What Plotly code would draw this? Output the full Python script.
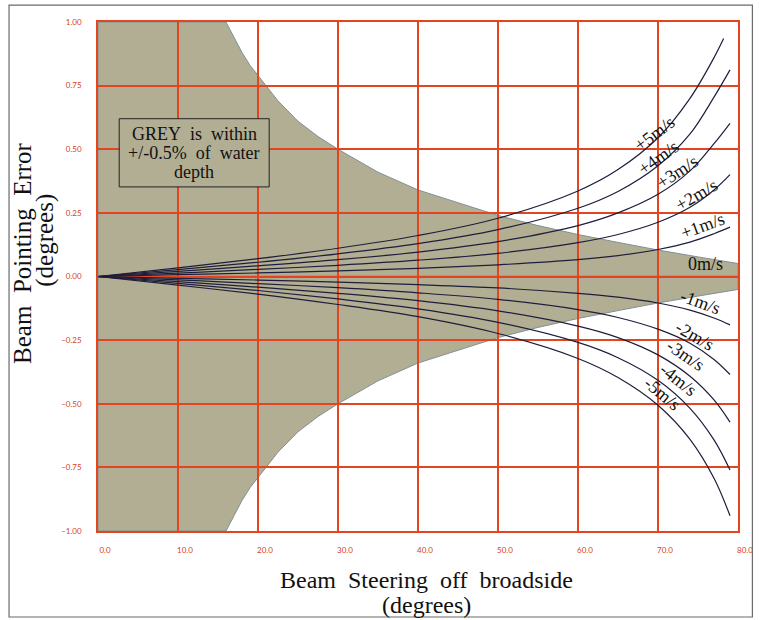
import plotly.graph_objects as go

# ---- data ----
steer_x = [0, 10, 20, 30, 40, 50, 60, 65, 70, 74, 77]
end_x = {"+5m/s": 78.2, "+4m/s": 79, "+3m/s": 79, "+2m/s": 79, "+1m/s": 79,
         "-1m/s": 79, "-2m/s": 79, "-3m/s": 79, "-4m/s": 79, "-5m/s": 79}

p5 = [0, .034, .070, .111, .161, .229, .336, .420, .545, .700, .860, .935]
p4 = [0, .027, .056, .089, .129, .184, .268, .334, .435, .560, .705, .812]
p3 = [0, .020, .042, .066, .096, .137, .200, .250, .323, .415, .522, .602]
p2 = [0, .013, .028, .044, .064, .091, .133, .165, .213, .272, .340, .400]
p1 = [0, .007, .014, .022, .032, .046, .066, .082, .106, .135, .168, .194]
n1 = [0, -.007, -.014, -.022, -.032, -.045, -.066, -.081, -.104, -.132, -.163, -.190]
n2 = [0, -.013, -.028, -.044, -.064, -.090, -.130, -.161, -.207, -.262, -.326, -.385]
n3 = [0, -.020, -.042, -.066, -.095, -.135, -.195, -.240, -.308, -.392, -.485, -.572]
n4 = [0, -.027, -.055, -.088, -.127, -.180, -.259, -.319, -.408, -.518, -.642, -.760]
n5 = [0, -.034, -.069, -.110, -.158, -.224, -.322, -.397, -.506, -.640, -.793, -.940]

series = {"+5m/s": p5, "+4m/s": p4, "+3m/s": p3, "+2m/s": p2, "+1m/s": p1,
          "-1m/s": n1, "-2m/s": n2, "-3m/s": n3, "-4m/s": n4, "-5m/s": n5}

# grey tolerance region boundary (+/-0.5% of depth)
bound_x = [16, 16.5, 17, 18, 19, 20, 21, 22.5, 25, 27.5, 30, 35, 40, 45, 50,
           55, 60, 65, 70, 75, 80]
bound_upper = [1.00, 0.97, 0.94, 0.88, 0.83, 0.79, 0.75, 0.69, 0.61, 0.55, 0.50,
               0.41, 0.34, 0.29, 0.24, 0.20, 0.165, 0.134, 0.104, 0.077, 0.051]
bound_lower = [-1.00, -0.97, -0.94, -0.88, -0.83, -0.79, -0.75, -0.69, -0.61, -0.55,
               -0.50, -0.41, -0.34, -0.29, -0.24, -0.20, -0.165, -0.134, -0.104,
               -0.077, -0.051]

# curve label positions (data coords) and angles
label_names = ["+5m/s", "+4m/s", "+3m/s", "+2m/s", "+1m/s", "0m/s",
               "-1m/s", "-2m/s", "-3m/s", "-4m/s", "-5m/s"]
label_x = [69.5, 70.0, 72.4, 74.8, 75.5, 75.9, 75.3, 74.6, 73.4, 72.6, 70.6]
label_y = [0.56, 0.465, 0.41, 0.32, 0.20, 0.05, -0.10, -0.235, -0.31, -0.405, -0.46]
label_ang = [-37, -36, -33, -30, -20, 0, 20, 30, 34, 38, 40]

x_ticks = [0, 10, 20, 30, 40, 50, 60, 70, 80]
y_ticks = [-1.0, -0.75, -0.5, -0.25, 0.0, 0.25, 0.5, 0.75, 1.0]

GRID = "#E2451F"
GREY = "#B2AE93"
SERIF = "Liberation Serif"

fig = go.Figure()

# zero-velocity line (coincides with the zero grid line)
fig.add_trace(go.Scatter(x=[0, 80], y=[0, 0], mode="lines",
                         line=dict(color=GRID, width=1.5), hoverinfo="skip",
                         showlegend=False))

for name, vals in series.items():
    xs = steer_x + [end_x[name]]
    fig.add_trace(go.Scatter(x=xs, y=vals, mode="lines", name=name,
                             line=dict(color="#1E1E3C", width=1.2, shape="spline",
                                       smoothing=1.0),
                             showlegend=False))

# grey region as path under the gridlines
pts = [(0, 1.0)] + list(zip(bound_x, bound_upper)) + \
      list(zip(bound_x[::-1], bound_lower[::-1])) + [(0, -1.0)]
path = "M " + " L ".join(f"{x},{y}" for x, y in pts) + " Z"
shapes = [dict(type="path", path=path, xref="x", yref="y", layer="below",
               fillcolor=GREY, line=dict(color="#7F9196", width=1))]

# legend-like box
shapes.append(dict(type="rect", xref="x", yref="y", x0=2.65, x1=21.4,
                   y0=0.352, y1=0.62, line=dict(color="#222", width=1),
                   fillcolor=GREY, layer="above"))
# outer frame
shapes.append(dict(type="rect", xref="paper", yref="paper",
                   x0=-0.139, x1=1.0225, y0=-0.169, y1=1.033,
                   line=dict(color="#6A6A6A", width=1.2), layer="above"))

annotations = []
for t, yy in zip(["GREY\u00a0\u00a0is\u00a0\u00a0within",
                  "+/-0.5%\u00a0\u00a0of\u00a0\u00a0water", "depth"],
                 [0.560, 0.484, 0.410]):
    annotations.append(dict(x=12.0, y=yy, xref="x", yref="y", text=t,
                            showarrow=False, font=dict(family=SERIF, size=18,
                                                       color="#111")))
for n, lx, ly, a in zip(label_names, label_x, label_y, label_ang):
    annotations.append(dict(x=lx, y=ly, xref="x", yref="y", text=n,
                            showarrow=False, textangle=a,
                            font=dict(family=SERIF, size=18, color="#111")))

annotations.append(dict(x=0.513, y=-0.096, xref="paper", yref="paper",
                        text="Beam\u00a0\u00a0Steering\u00a0\u00a0off\u00a0\u00a0broadside",
                        showarrow=False, yanchor="middle",
                        font=dict(family=SERIF, size=24, color="#111")))
annotations.append(dict(x=0.513, y=-0.146, xref="paper", yref="paper",
                        text="(degrees)", showarrow=False, yanchor="middle",
                        font=dict(family=SERIF, size=24, color="#111")))
annotations.append(dict(x=-0.119, y=0.546, xref="paper", yref="paper",
                        text="Beam\u00a0\u00a0Pointing\u00a0\u00a0Error",
                        showarrow=False, textangle=-90, xanchor="center",
                        yanchor="middle",
                        font=dict(family=SERIF, size=25, color="#111")))
annotations.append(dict(x=-0.083, y=0.572, xref="paper", yref="paper",
                        text="(degrees)",
                        showarrow=False, textangle=-90, xanchor="center",
                        yanchor="middle",
                        font=dict(family=SERIF, size=25, color="#111")))

fig.update_layout(
    width=761, height=620,
    margin=dict(l=98, r=23, t=22, b=89, autoexpand=False),
    paper_bgcolor="white", plot_bgcolor="white",
    shapes=shapes, annotations=annotations,
    xaxis=dict(range=[0, 80], tickvals=x_ticks, tickformat=".1f",
               showgrid=True, gridcolor=GRID, gridwidth=1.5,
               showline=True, linecolor=GRID, linewidth=1.5, mirror=True,
               zeroline=False, ticks="", automargin=False,
               tickfont=dict(family="Lato", size=8, color="#D8401A"),
               ticklabelshift=7, ticklabelstandoff=11),
    yaxis=dict(range=[-1, 1], tickvals=y_ticks, tickformat=".2f",
               showgrid=True, gridcolor=GRID, gridwidth=1.5,
               showline=True, linecolor=GRID, linewidth=1.5, mirror=True,
               zeroline=False, ticks="", automargin=False,
               tickfont=dict(family="Lato", size=8, color="#D8401A"),
               ticklabelstandoff=13),
)

fig.write_html("out.html", config={"displayModeBar": False},
               post_script="document.body.style.margin='0px';"
                           "document.body.style.overflow='hidden';")
